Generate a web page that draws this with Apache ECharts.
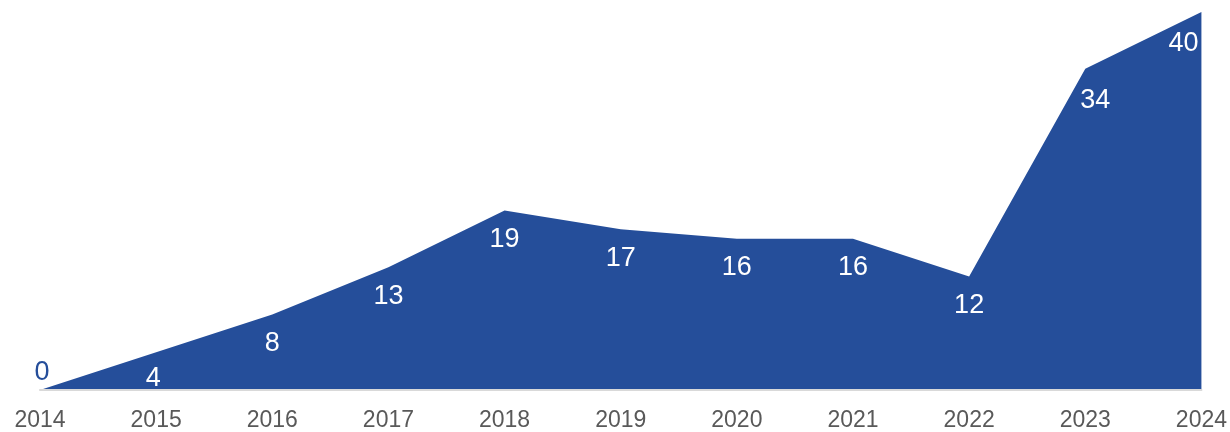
<!DOCTYPE html>
<html>
<head>
<meta charset="utf-8">
<script src="https://cdn.jsdelivr.net/npm/echarts@6/dist/echarts.min.js"></script>
<style>
html, body { margin: 0; padding: 0; background: #fff; }
#main { width: 1230px; height: 432px; }
</style>
</head>
<body>
<div id="main"></div>
<script>
// data
var years = ['2014', '2015', '2016', '2017', '2018', '2019', '2020', '2021', '2022', '2023', '2024']
var counts = [0, 4, 8, 13, 19, 17, 16, 16, 12, 34, 40]

var blue = '#254e9a'

var chart = echarts.init(document.getElementById('main'))

// label style per point: first one sits above in blue, others inside in white
var seriesData = counts.map(function (v, i) {
  var item = { value: v }
  if (i === 0) {
    item.label = { position: 'top', color: blue, distance: 3, offset: [2, 0] }
  } else if (i === 1) {
    item.label = { offset: [-3, -3] }
  } else if (i === counts.length - 1) {
    item.label = { offset: [-18, 3] }
  } else if (i === counts.length - 2) {
    item.label = { offset: [10, 3] }
  }
  return item
})

chart.setOption({
  animation: false,
  grid: {
    left: 40,
    right: 27,
    top: 12,
    bottom: 39
  },
  xAxis: {
    type: 'category',
    data: years,
    boundaryGap: false,
    z: 5,
    axisLine: {
      lineStyle: { color: '#d9d9d9', width: 2 }
    },
    axisTick: { show: false },
    axisLabel: {
      color: '#595959',
      fontSize: 23,
      fontFamily: 'Liberation Sans, Arial',
      margin: 19,
      interval: 0
    }
  },
  yAxis: {
    type: 'value',
    min: 0,
    max: 40,
    show: false,
    splitLine: { show: false }
  },
  series: [{
    type: 'line',
    data: seriesData,
    symbol: 'circle',
    symbolSize: 1,
    showSymbol: true,
    itemStyle: { color: 'transparent', borderWidth: 0 },
    lineStyle: { width: 0, color: blue },
    areaStyle: { color: blue, opacity: 1 },
    label: {
      show: true,
      position: 'bottom',
      distance: 15,
      color: '#fff',
      fontSize: 27,
      fontFamily: 'Liberation Sans, Arial'
    }
  }]
})
</script>
</body>
</html>
